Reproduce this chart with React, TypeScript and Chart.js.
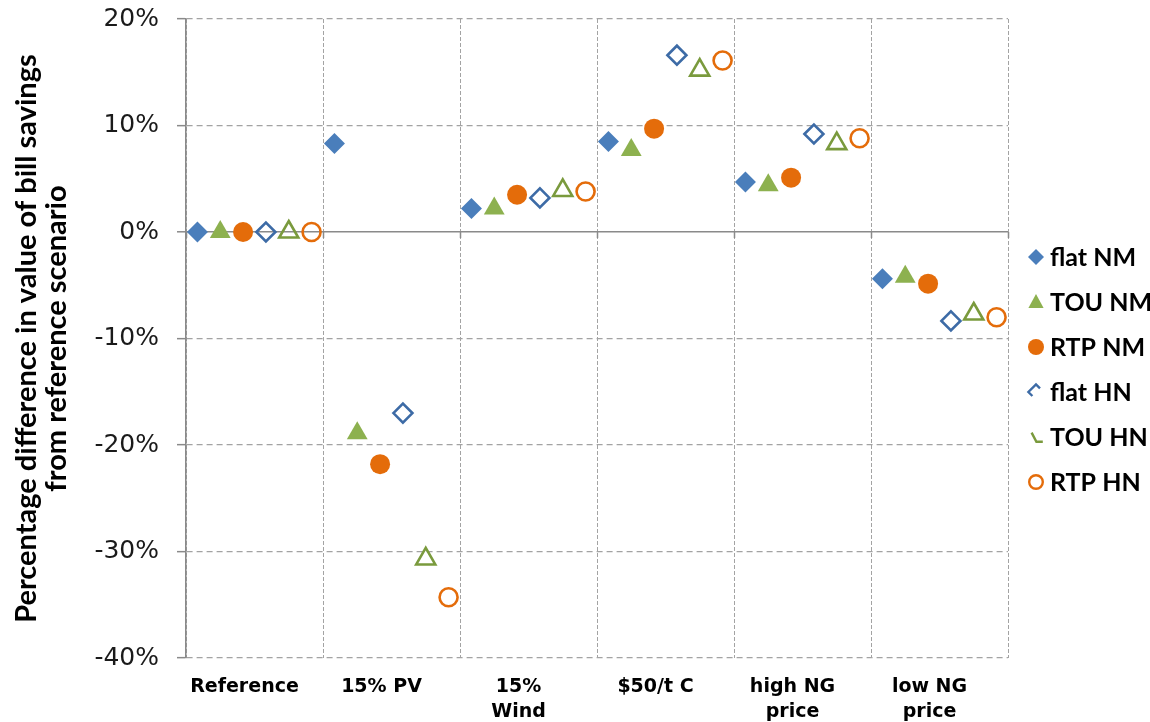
import React, { useEffect, useRef } from 'react';
import { Chart, registerables } from 'chart.js';

Chart.register(...registerables);

// Scenario groups along the horizontal axis (multi-line labels)
const scenarios: string[][] = [
  ['Reference'],
  ['15% PV'],
  ['15%', 'Wind'],
  ['$50/t C'],
  ['high NG', 'price'],
  ['low NG', 'price'],
];

// Percentage difference in value of bill savings, one value per scenario
const flatNM = [0, 8.3, 2.2, 8.5, 4.7, -4.4];
const touNM = [0, -18.9, 2.2, 7.7, 4.4, -4.2];
const rtpNM = [0, -21.8, 3.5, 9.7, 5.1, -4.85];
const flatHN = [0, -17.0, 3.2, 16.6, 9.2, -8.35];
const touHN = [0, -30.7, 3.9, 15.2, 8.3, -7.7];
const rtpHN = [0, -34.3, 3.8, 16.1, 8.8, -8.0];

const yTicks = [-40, -30, -20, -10, 0, 10, 20];

const BLUE = '#4A7EBB';
const BLUE_DARK = '#3D6BA6';
const GREEN = '#8DB14F';
const GREEN_DARK = '#7A9A3D';
const ORANGE = '#E46C0A';
const GRID = '#a3a3a3';
const AXIS = '#8a8a8a';

type SeriesStyle = {
  label: string;
  values: number[];
  shape: 'rectRot' | 'triangle' | 'circle';
  fill: boolean;
  color: string;
  radius: number;
};

const series: SeriesStyle[] = [
  { label: 'flat NM', values: flatNM, shape: 'rectRot', fill: true, color: BLUE, radius: 10.5 },
  { label: 'TOU NM', values: touNM, shape: 'triangle', fill: true, color: GREEN, radius: 12 },
  { label: 'RTP NM', values: rtpNM, shape: 'circle', fill: true, color: ORANGE, radius: 10 },
  { label: 'flat HN', values: flatHN, shape: 'rectRot', fill: false, color: BLUE_DARK, radius: 9.5 },
  { label: 'TOU HN', values: touHN, shape: 'triangle', fill: false, color: GREEN_DARK, radius: 11 },
  { label: 'RTP HN', values: rtpHN, shape: 'circle', fill: false, color: ORANGE, radius: 9 },
];

const perGroup = series.length;
const xMax = scenarios.length * perGroup;

const datasets = series.map((s, j) => ({
  label: s.label,
  data: s.values.map((v, g) => ({ x: g * perGroup + j + 0.5, y: v })),
  pointStyle: s.shape,
  pointRadius: s.radius,
  backgroundColor: s.fill ? s.color : 'rgba(0,0,0,0)',
  borderColor: s.color,
  borderWidth: s.fill ? 0 : 2.6,
  showLine: false,
  hollow: !s.fill,
}));

// Short solid ticks hanging below the 0% line at each group boundary
const zeroTicks = {
  id: 'zeroTicks',
  beforeDatasetsDraw(chart: any) {
    const { ctx, scales } = chart;
    const y0 = scales.y.getPixelForValue(0);
    ctx.save();
    ctx.strokeStyle = AXIS;
    ctx.lineWidth = 1.5;
    for (let v = 0; v <= xMax; v += perGroup) {
      const x = Math.round(scales.x.getPixelForValue(v)) + 0.5;
      ctx.beginPath();
      ctx.moveTo(x, y0);
      ctx.lineTo(x, y0 + 6);
      ctx.stroke();
    }
    ctx.restore();
  },
};

// Legend listed down the right-hand side
const sideLegend = {
  id: 'sideLegend',
  afterDraw(chart: any) {
    const { ctx, chartArea } = chart;
    const mx = chartArea.right + 28;
    const tx = chartArea.right + 42;
    const top = 257;
    const step = 45;
    chart.data.datasets.forEach((ds: any, i: number) => {
      const cy = top + i * step;
      const r = 8;
      ctx.save();
      ctx.lineWidth = 2.4;
      ctx.strokeStyle = ds.borderColor;
      ctx.fillStyle = ds.borderColor;
      ctx.beginPath();
      if (ds.pointStyle === 'rectRot') {
        if (ds.hollow) {
          ctx.moveTo(mx + 0.5 * r, cy - 0.45 * r);
          ctx.lineTo(mx, cy - 0.95 * r);
          ctx.lineTo(mx - 0.95 * r, cy);
          ctx.lineTo(mx - 0.45 * r, cy + 0.5 * r);
          ctx.stroke();
        } else {
          ctx.moveTo(mx, cy - r);
          ctx.lineTo(mx + r, cy);
          ctx.lineTo(mx, cy + r);
          ctx.lineTo(mx - r, cy);
          ctx.closePath();
          ctx.fill();
        }
      } else if (ds.pointStyle === 'triangle') {
        if (ds.hollow) {
          ctx.moveTo(mx - 0.55 * r, cy - 0.55 * r);
          ctx.lineTo(mx + 0.05 * r, cy + 0.6 * r);
          ctx.lineTo(mx + 0.85 * r, cy + 0.6 * r);
          ctx.stroke();
        } else {
          ctx.moveTo(mx, cy - r);
          ctx.lineTo(mx + 0.95 * r, cy + 0.75 * r);
          ctx.lineTo(mx - 0.95 * r, cy + 0.75 * r);
          ctx.closePath();
          ctx.fill();
        }
      } else {
        if (ds.hollow) {
          ctx.arc(mx, cy, r - 1.2, 0, Math.PI * 2);
          ctx.stroke();
        } else {
          ctx.arc(mx, cy, r, 0, Math.PI * 2);
          ctx.fill();
        }
      }
      ctx.restore();
      ctx.save();
      ctx.font = 'bold 25px Lato';
      ctx.fillStyle = '#000';
      ctx.textBaseline = 'middle';
      ctx.textAlign = 'left';
      ctx.fillText(ds.label, tx, cy + 1);
      ctx.restore();
    });
  },
};

export default function App() {
  const ref = useRef<HTMLCanvasElement>(null);

  useEffect(() => {
    if (!ref.current) return;
    const chart = new Chart(ref.current, {
      type: 'scatter',
      data: { datasets: datasets as any },
      plugins: [zeroTicks, sideLegend],
      options: {
        animation: false,
        responsive: false,
        events: [],
        layout: { padding: { top: 19, right: 142, bottom: 0, left: 0 } },
        plugins: {
          legend: { display: false },
          tooltip: { enabled: false },
        },
        scales: {
          x: {
            type: 'linear',
            min: 0,
            max: xMax,
            afterBuildTicks: (scale: any) => {
              const ticks = [];
              for (let v = 0; v <= xMax; v += perGroup / 2) ticks.push({ value: v });
              scale.ticks = ticks;
            },
            afterFit: (scale: any) => {
              scale.height = 64;
              scale.paddingLeft = 0;
              scale.paddingRight = 0;
            },
            ticks: {
              autoSkip: false,
              maxRotation: 0,
              minRotation: 0,
              padding: 17,
              labelOffset: -10,
              color: '#000',
              font: { family: 'DejaVu Sans', weight: 'bold', size: 19, lineHeight: '25px' },
              callback: (v: any) => {
                const n = Number(v);
                return n % perGroup === perGroup / 2 ? scenarios[(n - perGroup / 2) / perGroup] : '';
              },
            },
            grid: {
              drawTicks: false,
              lineWidth: 1,
              color: (ctx: any) =>
                ctx.tick && ctx.tick.value % perGroup === 0 ? GRID : 'rgba(0,0,0,0)',
            },
            border: {
              display: false,
              dash: (ctx: any) => (ctx.type === 'tick' ? [4, 2] : []),
            },
          },
          y: {
            type: 'linear',
            min: yTicks[0],
            max: yTicks[yTicks.length - 1],
            afterBuildTicks: (scale: any) => {
              scale.ticks = yTicks.map((v) => ({ value: v }));
            },
            afterFit: (scale: any) => {
              scale.width = 186;
              scale.paddingTop = 0;
              scale.paddingBottom = 0;
            },
            ticks: {
              padding: 18,
              color: '#1a1a1a',
              font: { family: 'DejaVu Sans', size: 25 },
              callback: (v: any) => `${v}%`,
            },
            grid: {
              drawTicks: true,
              tickLength: 9,
              tickWidth: 1.5,
              tickColor: AXIS,
              tickBorderDash: [],
              color: (ctx: any) => (ctx.tick && ctx.tick.value === 0 ? AXIS : GRID),
              lineWidth: (ctx: any) => (ctx.tick && ctx.tick.value === 0 ? 1.6 : 1.3),
            },
            border: {
              display: true,
              color: AXIS,
              width: 1.6,
              dash: (ctx: any) =>
                ctx.type === 'tick' && ctx.tick && ctx.tick.value !== 0 ? [6, 4] : [],
            },
            title: {
              display: true,
              text: ['Percentage difference in value of bill savings', 'from reference scenario'],
              color: '#000',
              font: { family: 'Lato', weight: 'bold', size: 29, lineHeight: '30px' },
              padding: { top: 12, bottom: 0 },
            },
          },
        },
      } as any,
    });
    return () => chart.destroy();
  }, []);

  return (
    <div style={{ position: 'fixed', left: 0, top: 0, width: 1150, height: 722, background: '#fff' }}>
      <canvas ref={ref} width={1150} height={722} style={{ display: 'block' }} />
    </div>
  );
}
